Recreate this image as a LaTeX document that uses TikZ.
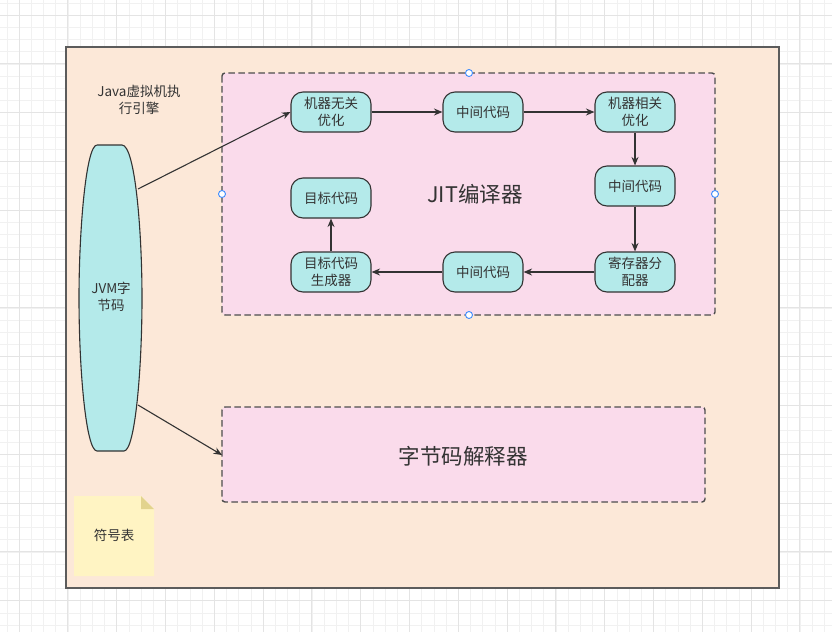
\documentclass[tikz,border=0pt]{standalone}
\usepackage{fontspec}
\setmainfont{Noto Sans CJK SC}
\usetikzlibrary{arrows.meta}
\usetikzlibrary{positioning}

\definecolor{gridminor}{HTML}{F1F1F1}
\definecolor{gridmajor}{HTML}{E4E4E4}
\definecolor{engine}{HTML}{FCE8D8}
\definecolor{jitpink}{HTML}{FADBEB}
\definecolor{stepcyan}{HTML}{B4EAEA}
\definecolor{notebg}{HTML}{FFF4C3}
\definecolor{notefold}{HTML}{E2D38E}
\definecolor{ink}{HTML}{333333}
\definecolor{dashink}{HTML}{4D4D4D}
\definecolor{handleblue}{HTML}{3D8BFD}

\begin{document}
\begin{tikzpicture}[x=1pt,y=-1pt,
    font=\fontsize{13.5}{17}\selectfont,
    stage/.style={draw=ink, line width=1.1pt, fill=stepcyan, rounded corners=12pt,
        minimum width=80pt, minimum height=40pt, inner sep=0pt, align=center, text=ink},
    area/.style={draw=dashink, line width=1.4pt, dash pattern=on 6.5pt off 3.5pt,
        fill=jitpink, rounded corners=3pt},
    flow/.style={draw=ink, line width=1.1pt, -{Stealth[length=8.5pt,width=7pt]}},
    handle/.style={circle, draw=handleblue, fill=white, line width=0.9pt,
        minimum size=7pt, inner sep=0pt},
    biglabel/.style={font=\fontsize{21.5}{26}\selectfont, text=ink}]

\useasboundingbox (0,0) rectangle (832,632);
\fill[white] (0,0) rectangle (832,632);
\foreach \gx in {0,...,68}
    \draw[gridminor, line width=0.8pt] (7+12.2*\gx,0) -- (7+12.2*\gx,632);
\foreach \gy in {0,...,52}
    \draw[gridminor, line width=0.8pt] (0,3+12.2*\gy) -- (832,3+12.2*\gy);
\foreach \gx in {0,...,17}
    \draw[gridmajor, line width=0.8pt] (19+48.8*\gx,0) -- (19+48.8*\gx,632);
\foreach \gy in {0,...,13}
    \draw[gridmajor, line width=0.8pt] (0,15+48.8*\gy) -- (832,15+48.8*\gy);

% execution engine
\draw[draw=ink!80, line width=2pt, fill=engine] (66,47) rectangle (779,588);
\node[text=ink, align=center] (title) at (139,100) {Java虚拟机执\\行引擎};

\draw[area] (222,73) rectangle (715,315);
\node[biglabel] (jit) at (475,194) {JIT编译器};
\draw[area] (222,407) rectangle (705,502);
\node[biglabel] (interp) at (463,456) {字节码解释器};
\coordinate (interpW) at (222,455);

% bytecode
\draw[draw=ink, line width=1.1pt, fill=stepcyan]
    (97,145) -- (122,145) .. controls (135,145) and (142,230) .. (142,298)
    .. controls (142,370) and (135,451) .. (124,451) -- (97,451)
    .. controls (86,451) and (79,370) .. (79,298)
    .. controls (79,230) and (86,145) .. (97,145);
\node[text=ink, align=center] (jvm) at (111,297) {JVM字\\节码};
\coordinate (jvmA) at (138,189);
\coordinate (jvmB) at (138,405);

\node[stage] (opt1) at (331,112) {机器无关\\优化};
\node[stage] (ir1) at (483,112) {中间代码};
\node[stage] (opt2) at (635,112) {机器相关\\优化};
\node[stage] (ir2) at (635,186) {中间代码};
\node[stage] (reg) at (635,272) {寄存器分\\配器};
\node[stage] (ir3) at (483,272) {中间代码};
\node[stage] (gen) at (331,272) {目标代码\\生成器};
\node[stage] (target) at (331,198) {目标代码};

\draw[flow] (jvmA) -- (opt1.west);
\draw[flow] (opt1) -- (ir1);
\draw[flow] (ir1) -- (opt2);
\draw[flow] (opt2) -- (ir2);
\draw[flow] (ir2) -- (reg);
\draw[flow] (reg) -- (ir3);
\draw[flow] (ir3) -- (gen);
\draw[flow] (gen) -- (target);
\draw[flow] (jvmB) -- (interpW);

% symbol table note
\draw[fill=notebg, draw=none] (74,496) -- (141,496) -- (154,509) -- (154,576) -- (74,576) -- cycle;
\fill[notefold] (141,496) -- (154,509) -- (141,509) -- cycle;
\node[text=ink] (symtab) at (114,535) {符号表};

\node[handle] (h1) at (469,73) {};
\node[handle] (h2) at (222,194) {};
\node[handle] (h3) at (715,194) {};
\node[handle] (h4) at (469,315) {};

\end{tikzpicture}
\end{document}
